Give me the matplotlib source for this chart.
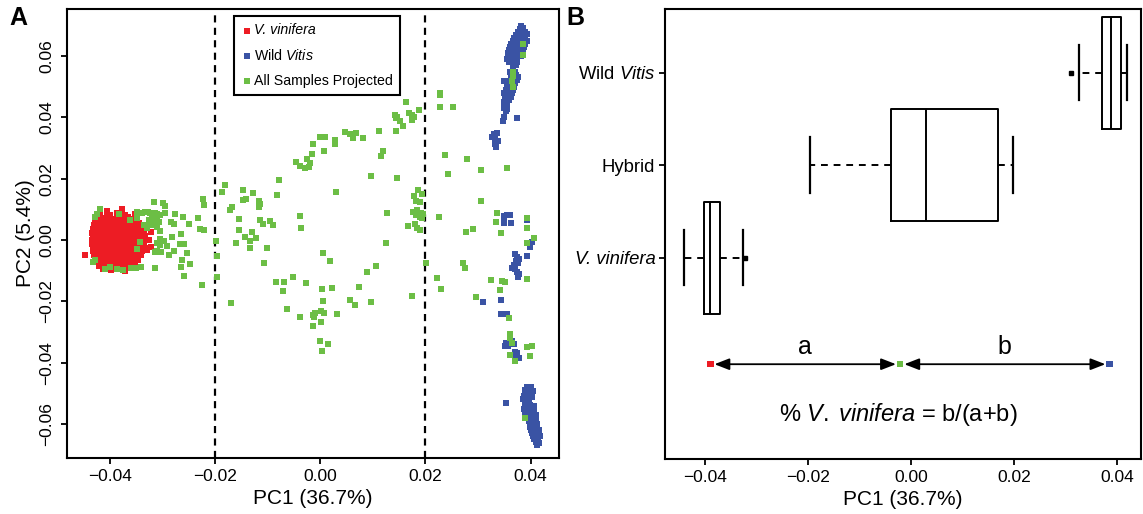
import matplotlib.pyplot as plt
import numpy as np
from matplotlib.ticker import FuncFormatter

plt.rcParams['font.family'] = ['Liberation Sans', 'DejaVu Sans']
plt.rcParams['mathtext.fontset'] = 'custom'
plt.rcParams['mathtext.rm'] = 'Liberation Sans'
plt.rcParams['mathtext.it'] = 'Liberation Sans:italic'

RED = '#ED1C24'
BLUE = '#3A53A4'
GREEN = '#6CBE45'

# --- panel A: (PC1, PC2) ---
vinifera_pts = [
    (-0.0446, -0.0049), (-0.0405, 0.0095), (-0.0376, 0.0101),
    (-0.0418, 0.0086), (-0.0399, 0.0083), (-0.0386, 0.0087), (-0.0371, 0.0082), (-0.0351, 0.0085),
    (-0.0425, 0.0073), (-0.0414, 0.0071), (-0.0405, 0.0074), (-0.0395, 0.0070), (-0.0386, 0.0073),
    (-0.0377, 0.0071), (-0.0366, 0.0074), (-0.0355, 0.0070),
    (-0.0428, 0.0061), (-0.0419, 0.0059), (-0.0410, 0.0062), (-0.0401, 0.0060), (-0.0392, 0.0058),
    (-0.0383, 0.0061), (-0.0374, 0.0059), (-0.0365, 0.0062), (-0.0356, 0.0059), (-0.0345, 0.0057),
    (-0.0430, 0.0048), (-0.0421, 0.0046), (-0.0412, 0.0050), (-0.0403, 0.0048), (-0.0394, 0.0046),
    (-0.0385, 0.0049), (-0.0376, 0.0047), (-0.0367, 0.0050), (-0.0358, 0.0048), (-0.0349, 0.0046),
    (-0.0338, 0.0049),
    (-0.0431, 0.0036), (-0.0423, 0.0038), (-0.0414, 0.0035), (-0.0405, 0.0037), (-0.0396, 0.0034),
    (-0.0387, 0.0036), (-0.0378, 0.0038), (-0.0369, 0.0035), (-0.0360, 0.0037), (-0.0351, 0.0034),
    (-0.0342, 0.0036), (-0.0330, 0.0038),
    (-0.0433, 0.0024), (-0.0424, 0.0022), (-0.0415, 0.0025), (-0.0406, 0.0023), (-0.0397, 0.0026),
    (-0.0388, 0.0024), (-0.0379, 0.0022), (-0.0370, 0.0025), (-0.0361, 0.0023), (-0.0352, 0.0026),
    (-0.0343, 0.0024), (-0.0334, 0.0022), (-0.0322, 0.0025),
    (-0.0432, 0.0012), (-0.0423, 0.0014), (-0.0414, 0.0011), (-0.0405, 0.0013), (-0.0396, 0.0010),
    (-0.0387, 0.0012), (-0.0378, 0.0014), (-0.0369, 0.0011), (-0.0360, 0.0013), (-0.0351, 0.0010),
    (-0.0342, 0.0012), (-0.0333, 0.0014),
    (-0.0434, 0.0000), (-0.0425, -0.0002), (-0.0416, 0.0001), (-0.0407, -0.0001), (-0.0398, 0.0002),
    (-0.0389, 0.0000), (-0.0380, -0.0002), (-0.0371, 0.0001), (-0.0362, -0.0001), (-0.0353, 0.0002),
    (-0.0344, 0.0000), (-0.0335, -0.0002), (-0.0325, 0.0001),
    (-0.0433, -0.0012), (-0.0424, -0.0010), (-0.0415, -0.0013), (-0.0406, -0.0011), (-0.0397, -0.0014),
    (-0.0388, -0.0012), (-0.0379, -0.0010), (-0.0370, -0.0013), (-0.0361, -0.0011), (-0.0352, -0.0014),
    (-0.0343, -0.0012), (-0.0334, -0.0010),
    (-0.0432, -0.0024), (-0.0423, -0.0026), (-0.0414, -0.0023), (-0.0405, -0.0025), (-0.0396, -0.0022),
    (-0.0387, -0.0024), (-0.0378, -0.0026), (-0.0369, -0.0023), (-0.0360, -0.0025), (-0.0351, -0.0022),
    (-0.0342, -0.0024), (-0.0333, -0.0026), (-0.0321, -0.0023),
    (-0.0431, -0.0036), (-0.0422, -0.0034), (-0.0413, -0.0037), (-0.0404, -0.0035), (-0.0395, -0.0038),
    (-0.0386, -0.0036), (-0.0377, -0.0034), (-0.0368, -0.0037), (-0.0359, -0.0035), (-0.0350, -0.0038),
    (-0.0339, -0.0036), (-0.0328, -0.0034),
    (-0.0430, -0.0048), (-0.0421, -0.0050), (-0.0412, -0.0047), (-0.0403, -0.0049), (-0.0394, -0.0046),
    (-0.0385, -0.0048), (-0.0376, -0.0050), (-0.0367, -0.0047), (-0.0358, -0.0049), (-0.0349, -0.0046),
    (-0.0340, -0.0048),
    (-0.0428, -0.0060), (-0.0419, -0.0058), (-0.0410, -0.0061), (-0.0401, -0.0059), (-0.0392, -0.0062),
    (-0.0383, -0.0060), (-0.0374, -0.0058), (-0.0365, -0.0061), (-0.0356, -0.0059), (-0.0346, -0.0065),
    (-0.0425, -0.0072), (-0.0416, -0.0074), (-0.0407, -0.0071), (-0.0398, -0.0073), (-0.0389, -0.0070),
    (-0.0380, -0.0072), (-0.0371, -0.0074), (-0.0362, -0.0071), (-0.0352, -0.0073),
    (-0.0420, -0.0084), (-0.0410, -0.0082), (-0.0400, -0.0085), (-0.0390, -0.0083), (-0.0380, -0.0086),
    (-0.0370, -0.0084), (-0.0360, -0.0082),
    (-0.0412, -0.0096), (-0.0398, -0.0098), (-0.0383, -0.0095), (-0.0371, -0.0100),
]

wild_pts = [
    # top cluster
    (0.0381, 0.0700), (0.0379, 0.0690), (0.0386, 0.0692), (0.0376, 0.0680), (0.0383, 0.0682),
    (0.0390, 0.0678), (0.0372, 0.0670), (0.0380, 0.0672), (0.0387, 0.0668), (0.0393, 0.0671),
    (0.0369, 0.0660), (0.0376, 0.0662), (0.0383, 0.0658), (0.0390, 0.0661), (0.0366, 0.0650),
    (0.0373, 0.0652), (0.0380, 0.0648), (0.0387, 0.0651), (0.0394, 0.0649), (0.0362, 0.0640),
    (0.0369, 0.0642), (0.0376, 0.0638), (0.0383, 0.0641), (0.0390, 0.0639), (0.0360, 0.0630),
    (0.0367, 0.0632), (0.0374, 0.0628), (0.0381, 0.0631), (0.0388, 0.0629), (0.0358, 0.0620),
    (0.0365, 0.0622), (0.0372, 0.0618), (0.0379, 0.0621), (0.0386, 0.0619), (0.0357, 0.0610),
    (0.0364, 0.0612), (0.0371, 0.0608), (0.0378, 0.0611), (0.0360, 0.0600), (0.0367, 0.0598),
    (0.0374, 0.0601), (0.0382, 0.0599), (0.0356, 0.0590), (0.0363, 0.0588), (0.0371, 0.0591),
    (0.0359, 0.0580), (0.0367, 0.0578), (0.0375, 0.0581), (0.0372, 0.0570), (0.0366, 0.0560),
    (0.0360, 0.0550), (0.0370, 0.0548), (0.0366, 0.0540), (0.0373, 0.0538), (0.0362, 0.0530),
    (0.0370, 0.0528), (0.0376, 0.0531), (0.0359, 0.0520), (0.0367, 0.0518), (0.0374, 0.0521),
    (0.0350, 0.0519), (0.0355, 0.0510), (0.0363, 0.0508), (0.0371, 0.0511), (0.0360, 0.0500),
    (0.0368, 0.0498), (0.0353, 0.0490), (0.0360, 0.0488), (0.0366, 0.0491), (0.0350, 0.0480),
    (0.0357, 0.0478), (0.0364, 0.0481), (0.0354, 0.0470), (0.0362, 0.0468), (0.0351, 0.0460),
    (0.0358, 0.0458), (0.0349, 0.0450), (0.0355, 0.0448), (0.0352, 0.0440), (0.0349, 0.0430),
    (0.0356, 0.0428), (0.0353, 0.0420), (0.0350, 0.0400), (0.0375, 0.0397), (0.0348, 0.0390),
    # small group near 0.033
    (0.0330, 0.0345), (0.0336, 0.0348), (0.0327, 0.0335), (0.0333, 0.0330), (0.0338, 0.0322),
    (0.0332, 0.0312), (0.0335, 0.0305),
    # middle groups
    (0.0349, 0.0080), (0.0355, 0.0082), (0.0360, 0.0081), (0.0350, 0.0069), (0.0349, 0.0055),
    (0.0362, 0.0056), (0.0394, 0.0065), (0.0402, -0.0006), (0.0399, -0.0022), (0.0397, -0.0009),
    (0.0393, -0.0052),
    (0.0371, -0.0045), (0.0375, -0.0055), (0.0378, -0.0062), (0.0372, -0.0068), (0.0376, -0.0075),
    (0.0368, -0.0080), (0.0365, -0.0090), (0.0370, -0.0095), (0.0374, -0.0103), (0.0377, -0.0110),
    (0.0376, -0.0120),
    (0.0310, -0.0203), (0.0344, -0.0196), (0.0343, -0.0242), (0.0355, -0.0242),
    (0.0354, -0.0337), (0.0351, -0.0347), (0.0357, -0.0345), (0.0365, -0.0330), (0.0368, -0.0340),
    (0.0370, -0.0365), (0.0375, -0.0370), (0.0378, -0.0385), (0.0366, -0.0375),
    (0.0353, -0.0531),
    # bottom cluster
    (0.0393, -0.0480), (0.0400, -0.0481), (0.0390, -0.0490), (0.0397, -0.0488), (0.0404, -0.0491),
    (0.0392, -0.0500), (0.0388, -0.0510), (0.0395, -0.0508), (0.0402, -0.0511), (0.0385, -0.0520),
    (0.0392, -0.0518), (0.0389, -0.0530), (0.0396, -0.0532), (0.0392, -0.0540), (0.0399, -0.0538),
    (0.0406, -0.0541), (0.0388, -0.0550), (0.0395, -0.0552), (0.0402, -0.0549), (0.0392, -0.0560),
    (0.0399, -0.0558), (0.0406, -0.0561), (0.0389, -0.0570), (0.0396, -0.0572), (0.0403, -0.0569),
    (0.0410, -0.0571), (0.0393, -0.0580), (0.0400, -0.0582), (0.0407, -0.0579), (0.0396, -0.0590),
    (0.0403, -0.0592), (0.0410, -0.0589), (0.0398, -0.0600), (0.0405, -0.0602), (0.0412, -0.0599),
    (0.0399, -0.0610), (0.0406, -0.0612), (0.0413, -0.0609), (0.0401, -0.0620), (0.0408, -0.0622),
    (0.0415, -0.0619), (0.0403, -0.0630), (0.0410, -0.0632), (0.0416, -0.0629), (0.0405, -0.0640),
    (0.0412, -0.0642), (0.0418, -0.0639), (0.0407, -0.0650), (0.0414, -0.0652), (0.0410, -0.0660),
    (0.0416, -0.0662), (0.0412, -0.0670),
]

projected_pts = [
    # around the V. vinifera cluster
    (-0.0315, 0.0125), (-0.0299, 0.0122), (-0.0294, 0.0111), (-0.0332, 0.0090), (-0.0327, 0.0090),
    (-0.0323, 0.0087), (-0.0313, 0.0089), (-0.0310, 0.0084), (-0.0305, 0.0082), (-0.0320, 0.0078),
    (-0.0315, 0.0067), (-0.0309, 0.0067), (-0.0306, 0.0060), (-0.0326, 0.0065), (-0.0323, 0.0058),
    (-0.0334, 0.0049), (-0.0328, 0.0040), (-0.0318, 0.0049), (-0.0310, 0.0043), (-0.0304, 0.0029),
    (-0.0294, 0.0089), (-0.0275, 0.0084), (-0.0284, 0.0060), (-0.0278, 0.0051), (-0.0261, 0.0076),
    (-0.0249, 0.0052), (-0.0264, 0.0019), (-0.0281, 0.0011), (-0.0296, -0.0002), (-0.0304, 0.0002),
    (-0.0310, -0.0009), (-0.0305, -0.0016), (-0.0310, -0.0036), (-0.0313, -0.0038), (-0.0303, -0.0038),
    (-0.0291, -0.0020), (-0.0277, -0.0036), (-0.0288, -0.0050), (-0.0266, -0.0014), (-0.0258, -0.0014),
    (-0.0252, -0.0041), (-0.0263, -0.0065), (-0.0265, -0.0089), (-0.0248, -0.0078), (-0.0258, -0.0117),
    (-0.0225, -0.0148), (-0.0314, -0.0090), (-0.0341, -0.0087), (-0.0349, -0.0092), (-0.0359, -0.0092),
    (-0.0374, -0.0098), (-0.0386, -0.0096), (-0.0399, -0.0089), (-0.0408, -0.0096), (-0.0418, 0.0100),
    (-0.0424, 0.0084), (-0.0427, 0.0076), (-0.0431, -0.0071), (-0.0427, -0.0065), (-0.0383, 0.0084),
    (-0.0361, 0.0065), (-0.0339, 0.0087), (-0.0348, 0.0071), (-0.0347, 0.0092), (-0.0343, -0.0005),
    (-0.0347, -0.0030),
    # left of centre
    (-0.0180, 0.0179), (-0.0187, 0.0156), (-0.0146, 0.0165), (-0.0141, 0.0133), (-0.0147, 0.0130),
    (-0.0127, 0.0152), (-0.0116, 0.0127), (-0.0114, 0.0117), (-0.0116, 0.0109), (-0.0168, 0.0109),
    (-0.0171, 0.0098), (-0.0223, 0.0134), (-0.0220, 0.0116), (-0.0229, 0.0036), (-0.0220, 0.0033),
    (-0.0232, 0.0071), (-0.0155, 0.0069), (-0.0154, 0.0033), (-0.0114, 0.0065), (-0.0108, 0.0051),
    (-0.0096, 0.0062), (-0.0090, 0.0049), (-0.0038, 0.0078), (-0.0037, 0.0040), (-0.0129, 0.0027),
    (-0.0142, 0.0011), (-0.0133, -0.0002), (-0.0134, -0.0025), (-0.0122, 0.0007), (-0.0160, -0.0008),
    (-0.0100, -0.0027), (-0.0198, -0.0002), (-0.0196, -0.0052), (-0.0106, -0.0076), (-0.0196, -0.0120),
    (-0.0170, -0.0205), (-0.0079, 0.0196), (-0.0081, 0.0147),
    # upper arc
    (0.0047, 0.0352), (0.0057, 0.0346), (0.0063, 0.0333), (0.0068, 0.0349), (0.0000, 0.0335),
    (0.0009, 0.0335), (-0.0013, 0.0315), (0.0028, 0.0326), (0.0028, 0.0313), (0.0008, 0.0290),
    (-0.0016, 0.0281), (-0.0024, 0.0264), (-0.0019, 0.0250), (-0.0028, 0.0234), (-0.0022, 0.0239),
    (-0.0039, 0.0242), (-0.0046, 0.0254), (0.0030, 0.0157), (0.0082, 0.0332),
    (0.0142, 0.0408), (0.0144, 0.0397), (0.0152, 0.0389), (0.0146, 0.0402), (0.0168, 0.0415),
    (0.0174, 0.0408), (0.0179, 0.0402), (0.0174, 0.0392), (0.0158, 0.0372), (0.0144, 0.0357),
    (0.0112, 0.0357), (0.0163, 0.0449), (0.0188, 0.0423), (0.0228, 0.0479), (0.0228, 0.0473),
    (0.0228, 0.0435), (0.0253, 0.0433), (0.0120, 0.0291), (0.0115, 0.0275), (0.0096, 0.0210),
    (0.0146, 0.0201),
    # lower arc
    (0.0006, -0.0043), (0.0018, -0.0068), (-0.0051, -0.0122), (-0.0084, -0.0136), (-0.0068, -0.0136),
    (-0.0070, -0.0166), (-0.0027, -0.0141), (-0.0063, -0.0226), (-0.0038, -0.0250), (-0.0013, -0.0245),
    (-0.0011, -0.0252), (-0.0014, -0.0281), (-0.0009, -0.0239), (0.0003, -0.0161), (0.0006, -0.0199),
    (0.0002, -0.0232), (0.0008, -0.0239), (0.0001, -0.0267), (0.0022, -0.0158), (0.0033, -0.0242),
    (0.0056, -0.0194), (0.0066, -0.0212), (0.0074, -0.0154), (0.0000, -0.0330), (0.0015, -0.0338),
    (0.0003, -0.0362), (0.0089, -0.0103), (0.0106, -0.0083), (0.0097, -0.0202), (0.0174, -0.0182),
    # right of 0.02
    (0.0237, 0.0277), (0.0280, 0.0263), (0.0243, 0.0216), (0.0305, 0.0228), (0.0355, 0.0236),
    (0.0306, 0.0127), (0.0186, 0.0165), (0.0193, 0.0150), (0.0179, 0.0144), (0.0182, 0.0128),
    (0.0189, 0.0125), (0.0177, 0.0092), (0.0185, 0.0098), (0.0191, 0.0089), (0.0196, 0.0084),
    (0.0189, 0.0076), (0.0182, 0.0082), (0.0193, 0.0071), (0.0128, 0.0087), (0.0225, 0.0076),
    (0.0167, 0.0046), (0.0180, 0.0054), (0.0185, 0.0038), (0.0189, 0.0033), (0.0125, -0.0008),
    (0.0277, 0.0027), (0.0290, 0.0035), (0.0336, 0.0087), (0.0334, 0.0058), (0.0344, 0.0024),
    (0.0394, 0.0071), (0.0406, 0.0008), (0.0393, -0.0011), (0.0393, 0.0041),
    (0.0201, -0.0076), (0.0223, -0.0125), (0.0230, -0.0161), (0.0271, -0.0074), (0.0275, -0.0091),
    (0.0296, -0.0186), (0.0325, -0.0130), (0.0345, -0.0133), (0.0351, -0.0137), (0.0342, -0.0164),
    (0.0359, -0.0253), (0.0360, -0.0308), (0.0361, -0.0321), (0.0364, -0.0335), (0.0361, -0.0375),
    (0.0370, -0.0395), (0.0393, -0.0348), (0.0402, -0.0346), (0.0399, -0.0378), (0.0394, -0.0127),
    (0.0389, -0.0582),
    # among the wild Vitis top cluster
    (0.0386, 0.0640), (0.0386, 0.0604), (0.0367, 0.0549), (0.0367, 0.0535), (0.0364, 0.0519),
    (0.0367, 0.0498),
]

# --- panel B: PC1 box summaries per group ---
group_labels = ['V. vinifera', 'Hybrid', r'Wild $\mathit{Vitis}$']
box_q1 = [-0.0403, -0.0039, 0.0371]
box_med = [-0.0390, 0.0030, 0.0388]
box_q3 = [-0.0372, 0.0170, 0.0408]
whisk_lo = [-0.0442, -0.0196, 0.0326]
whisk_hi = [-0.0327, 0.0199, 0.0419]
box_outliers = [[-0.0322], [], [0.0311]]

# reference positions used for the a / b arrows
ref_x = [-0.0390, -0.0021, 0.0386]


def pc_fmt(v, pos):
    return f'{v:.2f}'.replace('-', '\u2212')


fig = plt.figure(figsize=(11.43, 5.14), dpi=100)
axA = fig.add_axes([0.0586, 0.109, 0.4305, 0.8735])
axB = fig.add_axes([0.5818, 0.1064, 0.4164, 0.8756])

for pts, col, lab in [(vinifera_pts, RED, 'V. vinifera'),
                      (wild_pts, BLUE, r'Wild $\mathit{Vitis}$'),
                      (projected_pts, GREEN, 'All Samples Projected')]:
    arr = np.array(pts)
    axA.scatter(arr[:, 0], arr[:, 1], s=14, marker='s', c=col, linewidths=0, label=lab)

for xv in [-0.02, 0.02]:
    axA.axvline(xv, color='k', lw=1.6, ls=(0, (3.2, 2.4)), zorder=0)

axA.set_xlim(-0.0481, 0.0454)
axA.set_ylim(-0.0711, 0.0754)
axA.set_xticks([-0.04, -0.02, 0.0, 0.02, 0.04])
axA.set_yticks([-0.06, -0.04, -0.02, 0.0, 0.02, 0.04, 0.06])
axA.xaxis.set_major_formatter(FuncFormatter(pc_fmt))
axA.yaxis.set_major_formatter(FuncFormatter(pc_fmt))
plt.setp(axA.get_yticklabels(), rotation=90, va='center')
axA.set_xlabel('PC1 (36.7%)', fontsize=15)
axA.set_ylabel('PC2 (5.4%)', fontsize=15)
axA.xaxis.set_label_coords(0.5, -0.068)
axA.yaxis.set_label_coords(-0.066, 0.5)

leg = axA.legend(loc='upper left', bbox_to_anchor=(0.339, 0.984), fancybox=False,
                 edgecolor='black', framealpha=1, fontsize=10.2, markerscale=1.2,
                 handletextpad=0.15, handlelength=0.8, labelspacing=0.75,
                 borderpad=0.5, borderaxespad=0)
leg.get_frame().set_linewidth(1.5)
leg.get_texts()[0].set_fontstyle('italic')

# boxplot
stats = []
for i in range(3):
    stats.append(dict(q1=box_q1[i], med=box_med[i], q3=box_q3[i],
                      whislo=whisk_lo[i], whishi=whisk_hi[i], fliers=box_outliers[i]))
axB.bxp(stats, positions=[1, 2, 3], widths=1.21, capwidths=0.6, orientation='horizontal',
        manage_ticks=False,
        boxprops=dict(color='k', lw=1.4),
        whiskerprops=dict(color='k', lw=1.4, ls=(0, (3.5, 3))),
        capprops=dict(color='k', lw=1.6),
        medianprops=dict(color='k', lw=1.4),
        flierprops=dict(marker='s', markersize=3.5, mfc='k', mec='k'))

arrow_y = -0.152
for x0, x1 in [(ref_x[0], ref_x[1]), (ref_x[1], ref_x[2])]:
    axB.annotate('', xy=(x1, arrow_y), xytext=(x0, arrow_y),
                 arrowprops=dict(arrowstyle='<|-|>,head_length=0.9,head_width=0.35',
                                 color='k', lw=1.3, shrinkA=3, shrinkB=3))
axB.scatter(ref_x, [arrow_y] * 3, marker='s', s=22, c=[RED, GREEN, BLUE], linewidths=0, zorder=3)
axB.text((ref_x[0] + ref_x[1]) / 2, 0.03, 'a', fontsize=18, ha='center', va='center')
axB.text((ref_x[1] + ref_x[2]) / 2, 0.03, 'b', fontsize=18, ha='center', va='center')
axB.text(-0.0025, -0.70, r'% $\mathit{V.\;vinifera}$ = b/(a+b)', fontsize=17,
         ha='center', va='center')

axB.set_xlim(-0.0478, 0.0447)
axB.set_ylim(-1.18, 3.685)
axB.set_xticks([-0.04, -0.02, 0.0, 0.02, 0.04])
axB.xaxis.set_major_formatter(FuncFormatter(pc_fmt))
axB.set_yticks([1, 2, 3], group_labels)
axB.get_yticklabels()[0].set_fontstyle('italic')
axB.set_xlabel('PC1 (36.7%)', fontsize=15)
axB.xaxis.set_label_coords(0.5, -0.068)

for ax in (axA, axB):
    for sp in ax.spines.values():
        sp.set_linewidth(1.5)
    ax.tick_params(direction='out', length=4, width=1.3, labelsize=12.5, pad=4)
axA.tick_params(axis='y', pad=5)
axB.tick_params(axis='y', labelsize=13.3, pad=3)

fig.text(0.0157, 0.965, 'A', fontsize=18, fontweight='bold', ha='center', va='center')
fig.text(0.503, 0.965, 'B', fontsize=18, fontweight='bold', ha='center', va='center')

fig.savefig('out.png', dpi=100)
